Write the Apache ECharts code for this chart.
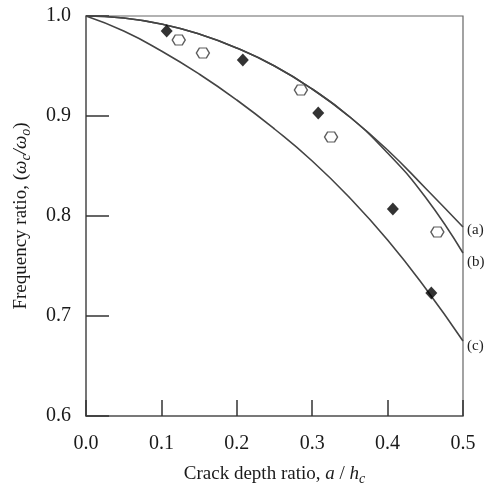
<!DOCTYPE html>
<html>
<head>
<meta charset="utf-8">
<script src="https://cdn.jsdelivr.net/npm/echarts@6/dist/echarts.min.js"></script>
<style>html,body{margin:0;padding:0;background:#fff;}#c{width:487px;height:488px;}</style>
</head>
<body>
<div id="c"></div>
<script>
// Crack depth ratio positions for the analytic curves
const curveX = [0, 0.05, 0.1, 0.15, 0.2, 0.25, 0.3, 0.35, 0.4, 0.45, 0.5];
// Curve (a)
const curveA = [1.0, 0.998, 0.992, 0.982, 0.968, 0.950, 0.927, 0.899, 0.866, 0.828, 0.789];
// Curve (b)
const curveB = [1.0, 0.998, 0.992, 0.982, 0.968, 0.950, 0.927, 0.899, 0.863, 0.819, 0.763];
// Curve (c)
const curveC = [1.0, 0.985, 0.965, 0.942, 0.916, 0.887, 0.855, 0.818, 0.776, 0.728, 0.675];
// Filled diamond markers
const diamondX = [0.107, 0.208, 0.308, 0.407, 0.458];
const diamondY = [0.985, 0.956, 0.903, 0.807, 0.723];
// Open hexagon markers
const hexX = [0.123, 0.155, 0.285, 0.325, 0.466];
const hexY = [0.976, 0.963, 0.926, 0.879, 0.784];
// Tick labels
const xTicks = ['0.0', '0.1', '0.2', '0.3', '0.4', '0.5'];
const yTicks = ['0.6', '0.7', '0.8', '0.9', '1.0'];
const curveNames = ['(a)', '(b)', '(c)'];

const zip = (xs, ys) => xs.map((x, i) => [x, ys[i]]);
const FONT = 'Liberation Serif';
const AXC = '#666';

const chart = echarts.init(document.getElementById('c'), null, {renderer: 'canvas'});

function lineSeries(ys, name, offY) {
  return {
    type: 'line', name: name, data: zip(curveX, ys), smooth: 0.5,
    showSymbol: false, symbol: 'none',
    lineStyle: {color: '#444', width: 1.6},
    z: 2,
    endLabel: {show: true, formatter: name, distance: 4, offset: [0, offY],
      fontFamily: FONT, fontSize: 15, color: '#222'}
  };
}

chart.setOption({
  animation: false,
  backgroundColor: '#fff',
  grid: {left: 86, right: 24, top: 16, bottom: 72, containLabel: false, outerBoundsMode: 'none',
    show: true, borderColor: AXC, borderWidth: 1.2},
  xAxis: {
    type: 'value', min: 0, max: 0.5, interval: 0.1,
    axisLine: {show: true, lineStyle: {color: AXC, width: 1.5}},
    axisTick: {show: true, inside: true, length: 16, lineStyle: {color: '#333', width: 1.5}},
    splitLine: {show: false},
    axisLabel: {formatter: (v) => xTicks[Math.round(v * 10)], fontFamily: FONT, fontSize: 20, color: '#1a1a1a', margin: 18},
    name: '{n|Crack depth ratio, }{i|a}{n| / }{i|h}{s|c}',
    nameLocation: 'middle', nameGap: 46,
    nameTextStyle: {
      rich: {
        n: {fontFamily: FONT, fontSize: 19, color: '#1a1a1a'},
        i: {fontFamily: FONT, fontSize: 19, fontStyle: 'italic', color: '#1a1a1a'},
        s: {fontFamily: FONT, fontSize: 14, fontStyle: 'italic', color: '#1a1a1a', padding: [10, 0, 0, 0]}
      }
    }
  },
  yAxis: {
    type: 'value', min: 0.6, max: 1.0, interval: 0.1,
    axisLine: {show: true, lineStyle: {color: AXC, width: 1.5}},
    axisTick: {show: true, inside: true, length: 23, lineStyle: {color: '#333', width: 1.5}},
    splitLine: {show: false},
    axisLabel: {formatter: (v) => yTicks[Math.round((v - 0.6) * 10)], fontFamily: FONT, fontSize: 20, color: '#1a1a1a', margin: 15},
    name: '{n|Frequency ratio, (}{i|ω}{s|c}{i|/ω}{s|o}{n|)}',
    nameLocation: 'middle', nameGap: 53, nameRotate: 90,
    nameTextStyle: {
      rich: {
        n: {fontFamily: FONT, fontSize: 19, color: '#1a1a1a'},
        i: {fontFamily: FONT, fontSize: 19, fontStyle: 'italic', color: '#1a1a1a'},
        s: {fontFamily: FONT, fontSize: 14, fontStyle: 'italic', color: '#1a1a1a', padding: [10, 0, 0, 0]}
      }
    }
  },
  series: [
    lineSeries(curveA, curveNames[0], 3),
    lineSeries(curveB, curveNames[1], 9),
    lineSeries(curveC, curveNames[2], 5),
    {
      type: 'scatter', data: zip(diamondX, diamondY), symbol: 'diamond', symbolSize: [12, 13],
      itemStyle: {color: '#000'}, z: 5
    },
    {
      type: 'scatter', data: zip(hexX, hexY),
      symbol: 'path://M3,0 L10,0 L13,5 L10,10 L3,10 L0,5 Z', symbolSize: [13, 10],
      itemStyle: {color: '#fff', borderColor: '#333', borderWidth: 1.3}, z: 5
    }
  ]
});
</script>
</body>
</html>
